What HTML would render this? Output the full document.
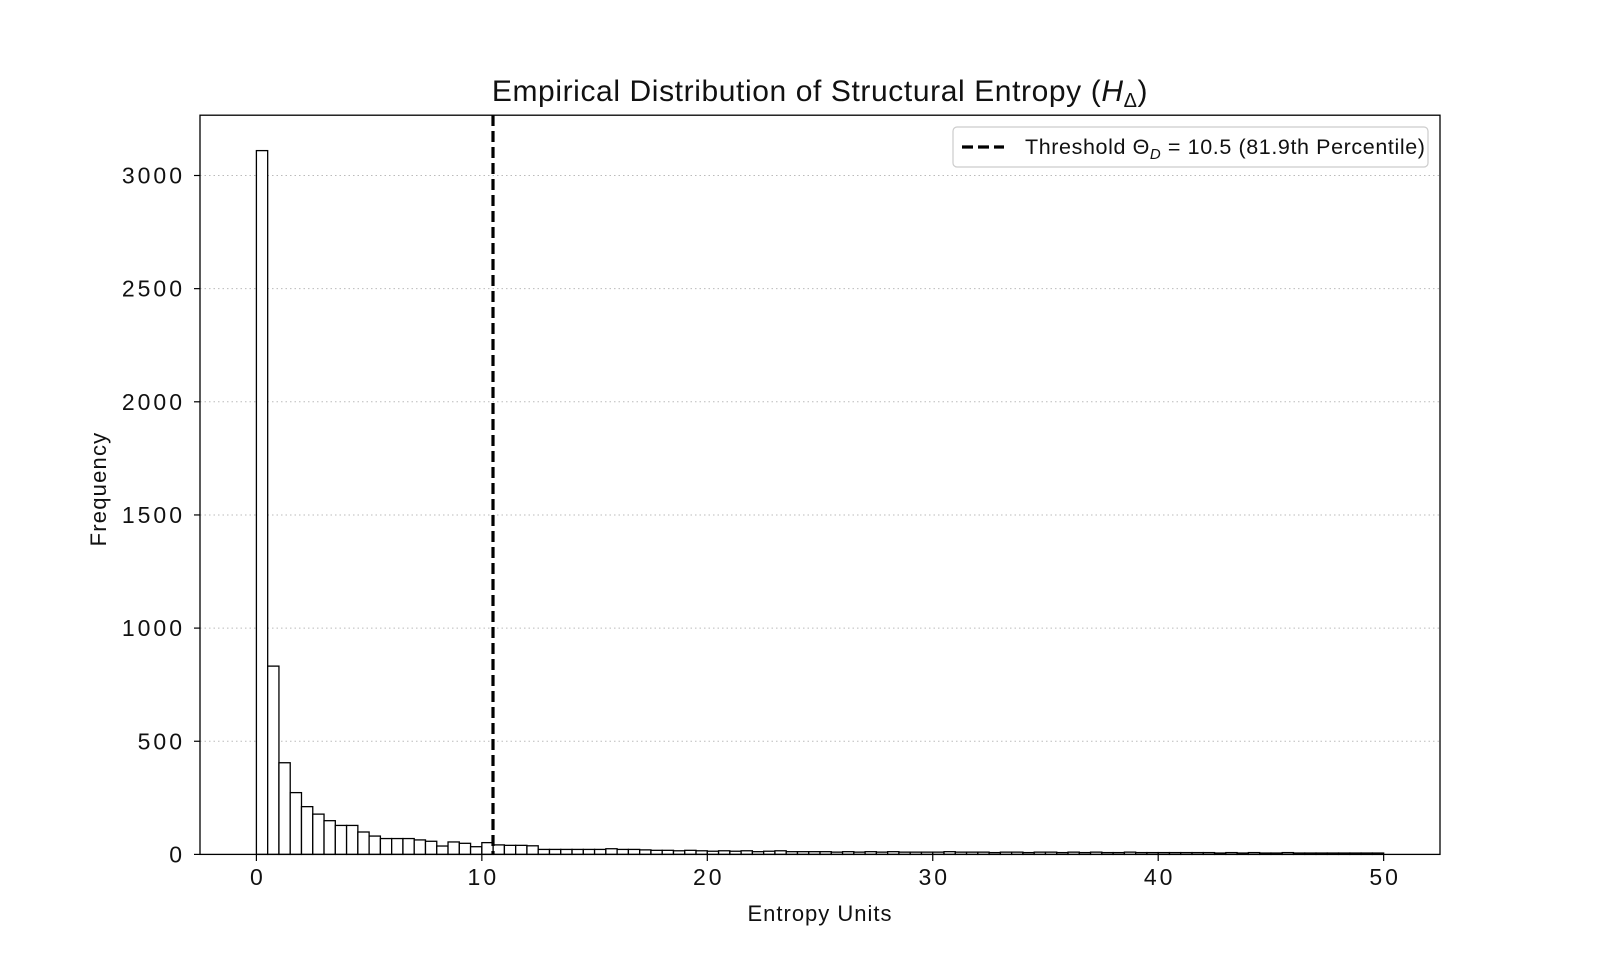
<!DOCTYPE html>
<html><head><meta charset="utf-8"><style>
html,body{margin:0;padding:0;background:#fff;}
svg{display:block;font-family:"Liberation Sans","DejaVu Sans",sans-serif;}
</style></head><body>
<svg id="s" width="1600" height="960" viewBox="0 0 1600 960" xmlns="http://www.w3.org/2000/svg">
<rect width="1600" height="960" fill="#fff"/>
<g id="grid"></g>
<g id="bars"></g>
<line x1="493" y1="115" x2="493" y2="854" stroke="#000" stroke-width="3.2" stroke-dasharray="11,5"/>
<rect x="200" y="115.2" width="1240" height="739.2" fill="none" stroke="#000" stroke-width="1.3"/>
<g id="ticks" font-size="23" fill="#111"></g>
<text x="820" y="921" font-size="22" letter-spacing="1" text-anchor="middle" fill="#111">Entropy Units</text>
<text transform="translate(106,489) rotate(-90)" font-size="22" letter-spacing="1.2" text-anchor="middle" fill="#111">Frequency</text>
<text x="820" y="101" font-size="30" letter-spacing="0.6" text-anchor="middle" fill="#111">Empirical Distribution of Structural Entropy (<tspan font-style="italic">H</tspan><tspan font-size="20" dy="6">Δ</tspan><tspan dy="-6">)</tspan></text>
<rect x="953" y="127" width="475" height="40" rx="4" fill="#fff" stroke="#ccc" stroke-width="1.2"/>
<line x1="962" y1="147" x2="1004" y2="147" stroke="#000" stroke-width="3.2" stroke-dasharray="11,5"/>
<text x="1025" y="154" font-size="21.5" letter-spacing="0.6" fill="#111">Threshold Θ<tspan font-style="italic" font-size="15" dy="5">D</tspan><tspan dy="-5"> = 10.5 (81.9th Percentile)</tspan></text>
</svg>
<script>
var NS="http://www.w3.org/2000/svg";
function el(p,t,a){var e=document.createElementNS(NS,t);for(var k in a)e.setAttribute(k,a[k]);p.appendChild(e);return e;}
var X=function(v){return 256.4+v*22.545;},Y=function(v){return 854.4-v*0.2263;};
var h=[3110,832,405,273,211,178,149,128,128,99,81,70,70,70,64,58,37,55,49,34,52,42,40,40,38,22,22,22,22,22,22,25,22,22,20,18,18,16,18,16,14,16,14,16,12,14,16,12,12,12,12,10,12,10,12,10,12,10,10,10,10,12,10,10,10,8,10,10,8,10,10,8,10,8,10,8,8,10,8,8,8,8,8,8,8,6,8,6,8,6,6,8,6,6,6,6,6,6,6,6];
var g=document.getElementById("grid"),b=document.getElementById("bars"),t=document.getElementById("ticks");
for(var v=0;v<=3000;v+=500){var y=Y(v);
 if(v>0)el(g,"line",{x1:200,x2:1440,y1:y,y2:y,stroke:"#bbb","stroke-width":1,"stroke-dasharray":"1.5,3"});
 el(t,"line",{x1:194,x2:200,y1:y,y2:y,stroke:"#000","stroke-width":1.2});
 var tx=el(t,"text",{x:185,y:y+8,"text-anchor":"end","letter-spacing":"3"});tx.textContent=v;}
for(var v=0;v<=50;v+=10){var x=X(v);
 el(t,"line",{x1:x,x2:x,y1:854,y2:861,stroke:"#000","stroke-width":1.2});
 var tx=el(t,"text",{x:x+1.5,y:885,"text-anchor":"middle","letter-spacing":"3"});tx.textContent=v;}
for(var i=0;i<100;i++){var x0=X(i*0.5),x1=X(i*0.5+0.5);
 el(b,"rect",{x:x0,y:Y(h[i]),width:x1-x0,height:h[i]*0.2263,fill:"#fff",stroke:"#000","stroke-width":1.3});}
</script>
</body></html>
